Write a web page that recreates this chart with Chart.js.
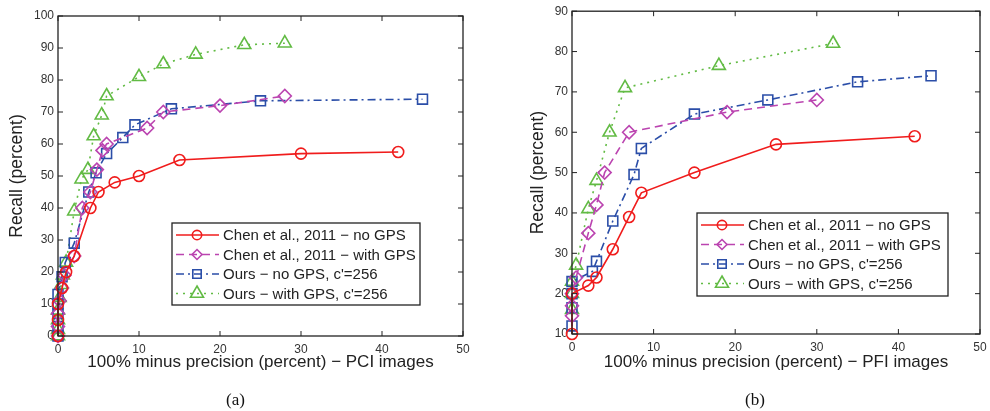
<!DOCTYPE html>
<html>
<head>
<meta charset="utf-8">
<script src="https://cdn.jsdelivr.net/npm/chart.js@4.4.1/dist/chart.umd.min.js"></script>
<style>
    html, body { margin: 0; padding: 0; background: #fff; width: 990px; height: 411px; overflow: hidden; }
    .panel { position: absolute; top: 0; }
    #pci-panel { left: 0; }
    #pfi-panel { left: 495px; }
    .caption { position: absolute; top: 390px; font-family: 'Liberation Serif', 'Times New Roman', serif; font-size: 17px; color: #111; }
</style>
</head>
<body>
<div class="panel" id="pci-panel"><canvas id="pci-chart" width="495" height="411"></canvas></div>
<div class="panel" id="pfi-panel"><canvas id="pfi-chart" width="505" height="411"></canvas></div>
<div class="caption" style="left:226px">(a)</div>
<div class="caption" style="left:745px">(b)</div>
<script>
// ---------- data ----------
const seriesLabels = [
    'Chen et al., 2011 \u2212 no GPS',
    'Chen et al., 2011 \u2212 with GPS',
    "Ours \u2212 no GPS, c'=256",
    "Ours \u2212 with GPS, c'=256"
];
const xTicks = [0, 10, 20, 30, 40, 50];
const pciYTicks = [0, 10, 20, 30, 40, 50, 60, 70, 80, 90, 100];
const pfiYTicks = [10, 20, 30, 40, 50, 60, 70, 80, 90];

// (a) PCI images
const pciChenNoGpsX   = [0, 0, 0, 0.5, 1, 2, 4, 5, 7, 10, 15, 30, 42];
const pciChenNoGpsY   = [0, 5, 10, 15, 20, 25, 40, 45, 48, 50, 55, 57, 57.5];
const pciChenGpsX     = [0, 0, 0, 0.2, 0.5, 0.8, 2, 3, 4, 4.8, 5.5, 6, 11, 13, 20, 28];
const pciChenGpsY     = [0, 3, 7, 11, 15, 19, 25, 40, 45, 52, 58, 60, 65, 70, 72, 75];
const pciOursNoGpsX   = [0, 0, 0, 0, 0, 0.5, 0.9, 2, 3.8, 4.7, 6, 8, 9.5, 14, 25, 45];
const pciOursNoGpsY   = [0, 3, 7, 10, 13, 18.5, 23, 29, 45, 51, 57, 62, 66, 71, 73.5, 74];
const pciOursGpsX     = [0, 0, 0, 0, 0.2, 0.4, 0.6, 1, 2, 2.9, 3.7, 4.4, 5.4, 6, 10, 13, 17, 23, 28];
const pciOursGpsY     = [0, 2, 5, 8, 12, 16, 19, 23, 39, 49, 52, 62.5, 69, 75, 81, 85, 88, 91, 91.5];

// (b) PFI images
const pfiChenNoGpsX   = [0, 0, 2, 3, 5, 7, 8.5, 15, 25, 42];
const pfiChenNoGpsY   = [10, 20, 22, 24, 31, 39, 45, 50, 57, 59];
const pfiChenGpsX     = [0, 0, 0, 0.5, 2, 3, 4, 7, 19, 30];
const pfiChenGpsY     = [14.5, 17, 20, 24, 35, 42, 50, 60, 65, 68];
const pfiOursNoGpsX   = [0, 0, 0, 0, 2.5, 3, 5, 7.6, 8.5, 15, 24, 35, 44];
const pfiOursNoGpsY   = [12, 16.5, 20, 23, 25.5, 28, 38, 49.5, 56, 64.5, 68, 72.5, 74];
const pfiOursGpsX     = [0, 0, 0, 0.5, 2, 3, 4.6, 6.5, 18, 32];
const pfiOursGpsY     = [16, 20, 23, 27, 41, 48, 60, 71, 76.5, 82];

// ---------- styling ----------
const FONT = "'Liberation Sans', Arial, Helvetica, sans-serif";
const seriesStyles = [
    { color: '#f01c1c', dash: [],           point: 'circle',   radius: 5.5 },
    { color: '#bb44b0', dash: [8, 5],       point: 'rectRot',  radius: 6.5 },
    { color: '#2b4ea8', dash: [8, 4, 2, 4], point: 'rect',     radius: 7 },
    { color: '#62bb44', dash: [2, 5],       point: 'triangle', radius: 7.5 }
];

const zip = (xs, ys) => xs.map((x, i) => ({ x: x, y: ys[i] }));

function makeDatasets(xsList, ysList) {
    return xsList.map((xs, i) => {
        const s = seriesStyles[i];
        return {
            label: seriesLabels[i],
            data: zip(xs, ysList[i]),
            borderColor: s.color,
            borderWidth: 1.6,
            borderDash: s.dash,
            backgroundColor: 'transparent',
            pointStyle: s.point,
            pointRadius: s.radius,
            pointBorderColor: s.color,
            pointBorderWidth: 1.6,
            pointBackgroundColor: 'transparent',
            tension: 0,
            clip: false
        };
    });
}

function drawMarker(ctx, style, x, y, r) {
    ctx.beginPath();
    if (style === 'circle') {
        ctx.arc(x, y, r, 0, Math.PI * 2);
    } else if (style === 'rect') {
        const s = Math.SQRT1_2 * r;
        ctx.rect(x - s, y - s, 2 * s, 2 * s);
    } else if (style === 'rectRot') {
        const s = r * 0.9;
        ctx.moveTo(x, y - s); ctx.lineTo(x + s, y); ctx.lineTo(x, y + s); ctx.lineTo(x - s, y); ctx.closePath();
    } else {
        ctx.moveTo(x, y - r);
        ctx.lineTo(x + Math.sin(Math.PI * 2 / 3) * r, y + r / 2);
        ctx.lineTo(x - Math.sin(Math.PI * 2 / 3) * r, y + r / 2);
        ctx.closePath();
    }
    ctx.stroke();
}

// MATLAB-like box with inward ticks + boxed legend
const matlabFrame = {
    id: 'matlabFrame',
    afterDatasetsDraw(chart, args, opts) {
        const { ctx, chartArea: a, scales } = chart;
        ctx.save();
        ctx.setLineDash([]);
        ctx.strokeStyle = '#222';
        ctx.lineWidth = 1.3;
        ctx.strokeRect(a.left, a.top, a.right - a.left, a.bottom - a.top);
        ctx.lineWidth = 1;
        const tl = 5;
        scales.x.ticks.forEach(t => {
            const px = scales.x.getPixelForValue(t.value);
            ctx.beginPath();
            ctx.moveTo(px, a.bottom); ctx.lineTo(px, a.bottom - tl);
            ctx.moveTo(px, a.top); ctx.lineTo(px, a.top + tl);
            ctx.stroke();
        });
        scales.y.ticks.forEach(t => {
            const py = scales.y.getPixelForValue(t.value);
            ctx.beginPath();
            ctx.moveTo(a.left, py); ctx.lineTo(a.left + tl, py);
            ctx.moveTo(a.right, py); ctx.lineTo(a.right - tl, py);
            ctx.stroke();
        });

        // legend
        const w = opts.width, h = opts.height;
        const lx = a.right - opts.right - w;
        const ly = a.bottom - opts.bottom - h;
        ctx.fillStyle = '#fff';
        ctx.fillRect(lx, ly, w, h);
        ctx.lineWidth = 1.3;
        ctx.strokeStyle = '#222';
        ctx.strokeRect(lx, ly, w, h);
        ctx.font = '15px ' + FONT;
        ctx.textBaseline = 'middle';
        chart.data.datasets.forEach((ds, i) => {
            const s = seriesStyles[i];
            const ry = ly + 12 + i * 19.5;
            ctx.strokeStyle = s.color;
            ctx.lineWidth = 1.6;
            ctx.setLineDash(s.dash);
            ctx.beginPath();
            ctx.moveTo(lx + 4, ry); ctx.lineTo(lx + 47, ry);
            ctx.stroke();
            ctx.setLineDash([]);
            drawMarker(ctx, s.point, lx + 25, ry, s.point === 'triangle' ? 7.5 : s.radius * 0.85);
            ctx.fillStyle = '#222';
            ctx.fillText(ds.label, lx + 51, ry + 1);
        });
        ctx.restore();
    }
};

function renderPanel(canvasId, datasets, yTicks, cfg) {
    const ctx = document.getElementById(canvasId).getContext('2d');
    return new Chart(ctx, {
        type: 'line',
        data: { datasets: datasets },
        plugins: [matlabFrame],
        options: {
            responsive: false,
            animation: false,
            events: [],
            layout: { padding: { top: cfg.top, right: cfg.right, left: 0, bottom: 0 } },
            plugins: {
                legend: { display: false },
                tooltip: { enabled: false },
                matlabFrame: cfg.legend
            },
            scales: {
                x: {
                    type: 'linear',
                    min: xTicks[0],
                    max: xTicks[xTicks.length - 1],
                    afterBuildTicks: (scale) => { scale.ticks = xTicks.map(v => ({ value: v })); },
                    grid: { display: false, drawTicks: false },
                    border: { display: false },
                    ticks: { color: '#333', font: { family: FONT, size: 12 }, padding: 6, maxRotation: 0 },
                    title: {
                        display: true,
                        text: cfg.xTitle,
                        color: '#222',
                        font: { family: FONT, size: 17 },
                        padding: { top: 0, bottom: cfg.xTitlePad }
                    },
                    afterFit: (scale) => { scale.height = cfg.xHeight; }
                },
                y: {
                    type: 'linear',
                    min: yTicks[0],
                    max: yTicks[yTicks.length - 1],
                    afterBuildTicks: (scale) => { scale.ticks = yTicks.map(v => ({ value: v })); },
                    grid: { display: false, drawTicks: false },
                    border: { display: false },
                    ticks: { color: '#333', font: { family: FONT, size: 12 }, padding: 4 },
                    title: {
                        display: true,
                        text: 'Recall (percent)',
                        color: '#222',
                        font: { family: FONT, size: 17.5 },
                        padding: { top: cfg.yTitlePad, bottom: 0 }
                    },
                    afterFit: (scale) => { scale.width = cfg.yWidth; }
                }
            }
        }
    });
}

renderPanel('pci-chart',
    makeDatasets([pciChenNoGpsX, pciChenGpsX, pciOursNoGpsX, pciOursGpsX],
                 [pciChenNoGpsY, pciChenGpsY, pciOursNoGpsY, pciOursGpsY]),
    pciYTicks,
    {
        top: 16, right: 32, yWidth: 58, xHeight: 75,
        xTitle: '100% minus precision (percent) \u2212 PCI images',
        xTitlePad: 38, yTitlePad: 7,
        legend: { width: 248, height: 82, right: 43, bottom: 31 }
    });

renderPanel('pfi-chart',
    makeDatasets([pfiChenNoGpsX, pfiChenGpsX, pfiOursNoGpsX, pfiOursGpsX],
                 [pfiChenNoGpsY, pfiChenGpsY, pfiOursNoGpsY, pfiOursGpsY]),
    pfiYTicks,
    {
        top: 9, right: 20, yWidth: 77, xHeight: 77,
        xTitle: '100% minus precision (percent) \u2212 PFI images',
        xTitlePad: 38, yTitlePad: 33,
        legend: { width: 251, height: 83, right: 32, bottom: 38 }
    });
</script>
</body>
</html>
